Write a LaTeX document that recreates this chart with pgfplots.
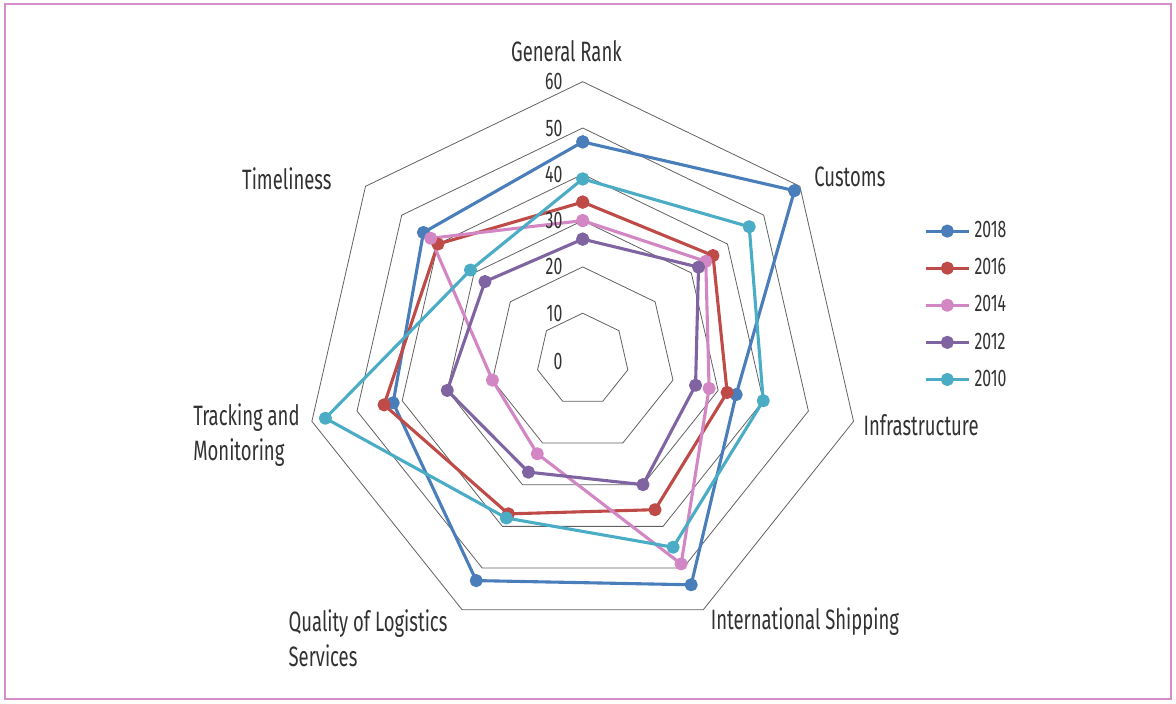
\documentclass[border=0pt]{standalone}
\usepackage{fontspec}
\setmainfont{Fira Sans}[FakeStretch=0.66]
\usepackage{pgfplots}
\pgfplotsset{compat=1.18}
\definecolor{c2018}{RGB}{74,126,187}
\definecolor{c2016}{RGB}{190,75,72}
\definecolor{c2014}{RGB}{210,135,196}
\definecolor{c2012}{RGB}{128,100,162}
\definecolor{c2010}{RGB}{75,172,198}
\definecolor{frame}{RGB}{214,140,200}
\definecolor{txt}{RGB}{50,50,50}
\begin{document}
\begin{tikzpicture}
\begin{axis}[
  scale only axis, width=588pt, height=351.5pt,
  xmin=-125.853, xmax=128.143, ymin=-74.190, ymax=77.646,
  hide axis, clip=false,
  legend style={draw=none, fill=none, font=\fontsize{12}{13.5}\selectfont\color{txt},
    at={(axis description cs:0.7855,0.6913)}, anchor=north west, row sep=4.9pt,
    inner sep=0pt},
  legend cell align=left,
  legend image code/.code={\draw[mark repeat=2,mark phase=2,#1] plot coordinates {(0cm,0cm) (0.38cm,0cm) (0.76cm,0cm)};},
  grid line/.style={black!62, line width=0.4pt, forget plot},
  series/.style={line width=1.55pt, mark=*, mark size=2.5pt, line join=round, data cs=polar},
]
% frame
\draw[frame, line width=1.3pt] (axis description cs:0.00425,0.9943) rectangle (axis description cs:0.9957,0.00569);
\path (axis description cs:0,0) rectangle (axis description cs:1,1);
% heptagon grid
\addplot[grid line, data cs=polar] coordinates {(90,10) (38.5714,10) (-12.8571,10) (-64.2857,10) (-115.7143,10) (-167.1429,10) (-218.5714,10) (90,10)};
\addplot[grid line, data cs=polar] coordinates {(90,20) (38.5714,20) (-12.8571,20) (-64.2857,20) (-115.7143,20) (-167.1429,20) (-218.5714,20) (90,20)};
\addplot[grid line, data cs=polar] coordinates {(90,30) (38.5714,30) (-12.8571,30) (-64.2857,30) (-115.7143,30) (-167.1429,30) (-218.5714,30) (90,30)};
\addplot[grid line, data cs=polar] coordinates {(90,40) (38.5714,40) (-12.8571,40) (-64.2857,40) (-115.7143,40) (-167.1429,40) (-218.5714,40) (90,40)};
\addplot[grid line, data cs=polar] coordinates {(90,50) (38.5714,50) (-12.8571,50) (-64.2857,50) (-115.7143,50) (-167.1429,50) (-218.5714,50) (90,50)};
\addplot[grid line, data cs=polar] coordinates {(90,60) (38.5714,60) (-12.8571,60) (-64.2857,60) (-115.7143,60) (-167.1429,60) (-218.5714,60) (90,60)};
% series
\addplot[series, color=c2018] coordinates {(90,47) (38.5714,58.5) (-12.8571,34) (-64.2857,54) (-115.7143,53) (-167.1429,42) (-218.5714,44) (90,47)};
\addlegendentry{2018}
\addplot[series, color=c2016] coordinates {(90,34) (38.5714,36) (-12.8571,32) (-64.2857,36) (-115.7143,37) (-167.1429,44) (-218.5714,40) (90,34)};
\addlegendentry{2016}
\addplot[series, color=c2014] coordinates {(90,30) (38.5714,34) (-12.8571,28) (-64.2857,49) (-115.7143,22.6) (-167.1429,20) (-218.5714,42) (90,30)};
\addlegendentry{2014}
\addplot[series, color=c2012] coordinates {(90,26) (38.5714,32) (-12.8571,25) (-64.2857,30) (-115.7143,27) (-167.1429,30) (-218.5714,27) (90,26)};
\addlegendentry{2012}
\addplot[series, color=c2010] coordinates {(90,39) (38.5714,46) (-12.8571,40) (-64.2857,45) (-115.7143,38) (-167.1429,57) (-218.5714,31) (90,39)};
\addlegendentry{2010}
% radial tick labels
\begin{scope}[every node/.style={anchor=east, inner sep=0pt, text=txt, font=\fontsize{12}{13.5}\selectfont}]
\node at (axis cs:-4.3,-0.5) {0};
\node at (axis cs:-4.3,10) {10};
\node at (axis cs:-4.3,20) {20};
\node at (axis cs:-4.3,30) {30};
\node at (axis cs:-4.3,40) {40};
\node at (axis cs:-4.3,50) {50};
\node at (axis cs:-4.3,60) {60};
\end{scope}
% category labels
\begin{scope}[every node/.style={inner sep=0pt, text=txt, font=\fontsize{14}{17.5}\selectfont}]
\node at (axis cs:-3.5,66.7) {General Rank};
\node at (axis cs:57.7,39.4) {Customs};
\node at (axis cs:73.1,-14.1) {Infrastructure};
\node at (axis cs:48.0,-56.7) {International Shipping};
\node[anchor=west, align=left] at (axis cs:-63.6,-60.2) {Quality of Logistics\\Services};
\node[anchor=west, align=left] at (axis cs:-84.2,-16.4) {Tracking and\\Monitoring};
\node at (axis cs:-63.9,39.0) {Timeliness};
\end{scope}
\end{axis}
\end{tikzpicture}
\end{document}
